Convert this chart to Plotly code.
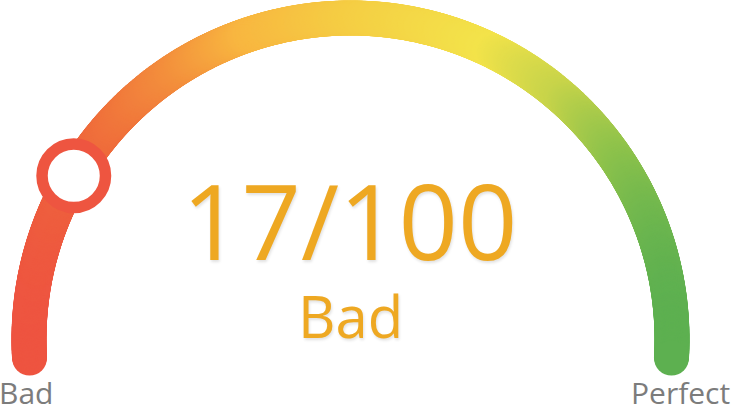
import numpy as np
import plotly.graph_objects as go

# ---- data ----
score = 17
score_min = 0
score_max = 100
rating = "Bad"
end_labels = ["Bad", "Perfect"]
gradient_pos = [0.0, 0.11, 0.235, 0.345, 0.5, 0.72, 0.83, 0.92, 1.0]
gradient_col = ["#EE5440", "#EF6A3B", "#F38F3C", "#F8B640", "#F5CC43",
                "#F3E34A", "#C8D44A", "#8DC24B", "#5DB050"]

# ---- geometry (pixel-like axis units, y grows downward) ----
W, H = 733, 405
cx, cy, R = 350.5, 339.5, 321.5
arc_start, arc_end = 183.3, -3.3   # degrees, drawn span of the track

t = np.linspace(arc_start, arc_end, 900)
ax_ = cx + R * np.cos(np.radians(t))
ay_ = cy - R * np.sin(np.radians(t))

frac = (score - score_min) / (score_max - score_min)
ang = np.radians(180 - 180 * frac)
mx, my = cx + R * np.cos(ang), cy - R * np.sin(ang)

fig = go.Figure()
fig.add_trace(go.Scatter(
    x=ax_, y=ay_, mode="markers", hoverinfo="skip",
    marker=dict(size=35, color=ax_, cmin=ax_.min(), cmax=ax_.max(),
                colorscale=[[p, c] for p, c in zip(gradient_pos, gradient_col)],
                line=dict(width=0)),
    cliponaxis=False,
))
fig.add_trace(go.Scatter(
    x=[mx], y=[my], mode="markers", hoverinfo="skip",
    marker=dict(size=63.5, color="white", line=dict(width=11.5, color="#EE5540")),
    cliponaxis=False,
))

fnt = "Open Sans"
orange = "#EEA822"
fig.add_annotation(x=349, y=221.5, xref="x", yref="y", showarrow=False,
                   text=f"{score}/{score_max}", yanchor="middle", yshift=2,
                   font=dict(family=fnt, size=104, color=orange,
                             shadow="1px 2px 3px rgba(0,0,0,0.12)"))
fig.add_annotation(x=350, y=315, xref="x", yref="y", showarrow=False,
                   text=rating, yanchor="middle", yshift=0,
                   font=dict(family=fnt, size=58, color=orange,
                             shadow="1px 2px 3px rgba(0,0,0,0.12)"))
fig.add_annotation(x=0, y=394, xref="x", yref="y", showarrow=False,
                   text=end_labels[0], xanchor="left", yanchor="middle",
                   xshift=-3, yshift=2,
                   font=dict(family=fnt, size=30, color="#7C7C7C"))
fig.add_annotation(x=W, y=394, xref="x", yref="y", showarrow=False,
                   text=end_labels[1], xanchor="right", yanchor="middle",
                   xshift=-1, yshift=2,
                   font=dict(family=fnt, size=30, color="#7C7C7C"))

fig.update_xaxes(range=[0, W], visible=False, fixedrange=True)
fig.update_yaxes(range=[H, 0], visible=False, fixedrange=True)
fig.update_layout(width=W, height=H, margin=dict(l=0, r=0, t=0, b=0),
                  paper_bgcolor="white", plot_bgcolor="white", showlegend=False)
fig.write_html("out.html", config={"displayModeBar": False})
